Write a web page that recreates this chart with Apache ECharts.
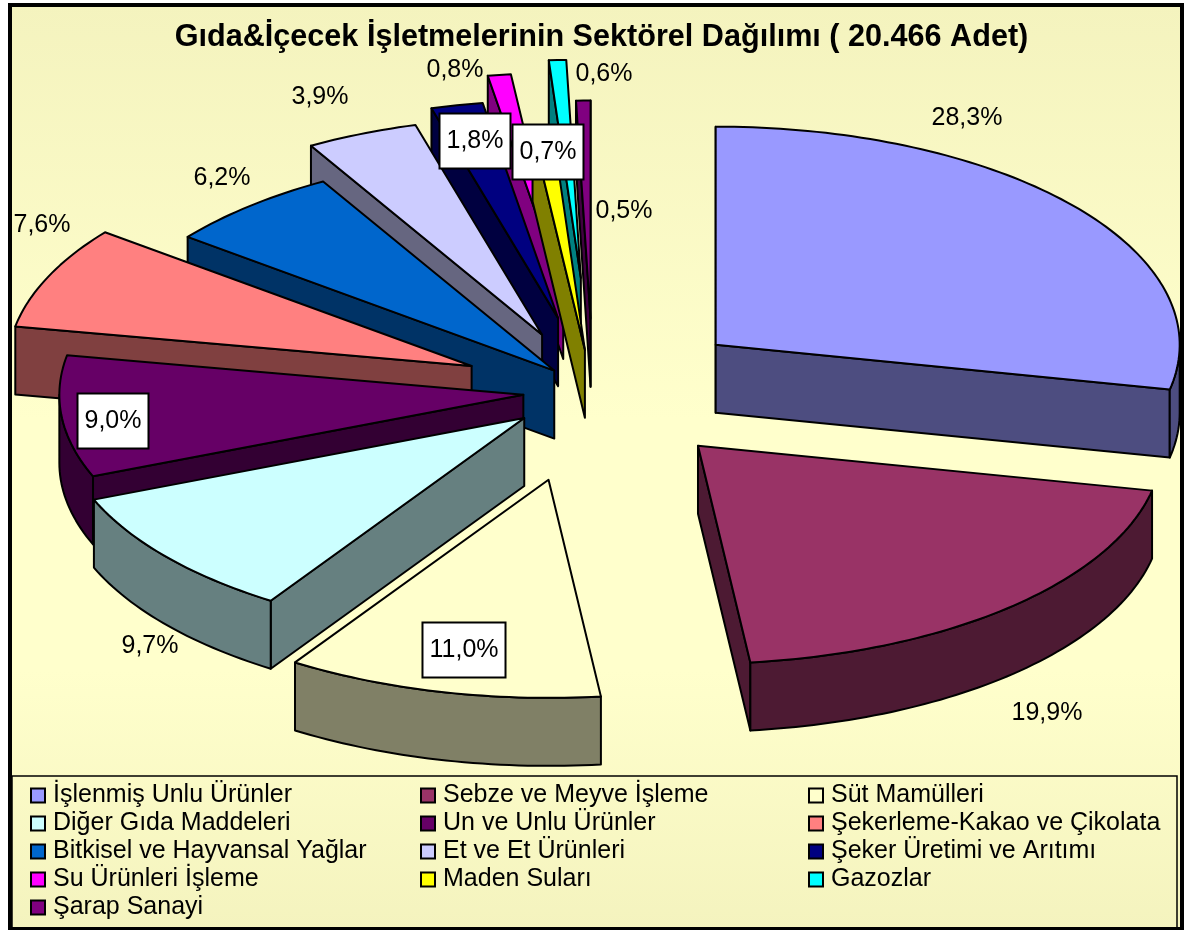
<!DOCTYPE html>
<html><head><meta charset="utf-8">
<style>html,body{margin:0;padding:0;background:#fff}#c{width:1185px;height:930px}</style>
<script src="https://cdn.jsdelivr.net/npm/echarts@6/dist/echarts.min.js"></script>
</head><body><div id="c"></div>
<script>
const titleText = 'Gıda&İçecek İşletmelerinin Sektörel Dağılımı ( 20.466 Adet)';
const categories = ['İşlenmiş Unlu Ürünler','Sebze ve Meyve İşleme','Süt Mamülleri','Diğer Gıda Maddeleri','Un ve Unlu Ürünler','Şekerleme-Kakao ve Çikolata','Bitkisel ve Hayvansal Yağlar','Et ve Et Ürünleri','Şeker Üretimi ve Arıtımı','Su Ürünleri İşleme','Maden Suları','Gazozlar','Şarap Sanayi'];
const percents = [28.3,19.9,11.0,9.7,9.0,7.6,6.2,3.9,1.8,0.8,0.7,0.6,0.5];
const colors = ['#9999FF','#993366','#FFFFCC','#CCFFFF','#660066','#FF8080','#0066CC','#CCCCFF','#000080','#FF00FF','#FFFF00','#00FFFF','#800080'];
const sideColors = ['#4D4D80','#4D1A33','#808066','#668080','#330033','#804040','#003366','#666680','#000040','#800080','#808000','#008080','#400040'];

// layout of the exploded 3D pie, apart from the values
const centerX = 593, centerY = 391.5, radiusX = 464, tilt = 0.47, depth = 68;
const explode = [158,156,193,89,70,133,59,131,160,216,89,242,155];
const drawOrder = [12,11,9,8,10,7,6,0,5,4,3,1,2];
const labelCenters = [[967,118],[1047,713],[464,650],[150,646],[113,421],[42,225],[222,178],[320,97],[475,141],[455,70],[548,152],[604,74],[624,211]];
const labelBoxed = [false,false,true,false,true,false,false,false,true,false,true,false,false];
const legendColumns = [[0,3,6,9,12],[1,4,7,10],[2,5,8,11]];
const legendLefts = [30,420,808];

const total = percents.reduce((a,b)=>a+b,0);
const starts = [];
percents.reduce((acc,v,i)=>{starts[i]=acc;return acc+v;},0);
const rad = p => p/total*2*Math.PI;
const dir = a => [Math.sin(a), -Math.cos(a)*tilt];

function renderSlice(idx, api){
  const v = api.value(0);
  const a0 = rad(starts[idx]), a1 = rad(starts[idx]+v), mid=(a0+a1)/2;
  const md = dir(mid);
  const ax = centerX + explode[idx]*md[0], ay = centerY + explode[idx]*md[1];
  const at = a => { const d=dir(a); return [ax+radiusX*d[0], ay+radiusX*d[1]]; };
  const down = p => [p[0], p[1]+depth];
  const apex=[ax,ay];
  const style = fill => ({fill, stroke:'#000', lineWidth:2, lineJoin:'round'});
  const kids=[];
  const poly = (pts,fill)=>kids.push({type:'polygon',shape:{points:pts},style:style(fill),silent:true});
  const arc=(s,e)=>{const n=Math.max(2,Math.ceil((e-s)/0.02));const r=[];for(let i=0;i<=n;i++)r.push(at(s+(e-s)*i/n));return r;};
  // radial walls that face the viewer
  if (Math.cos(a0-Math.PI/2) < 1e-6) { const p=at(a0); poly([apex,p,down(p),down(apex)],sideColors[idx]); }
  if (Math.cos(a1+Math.PI/2) < 1e-6) { const p=at(a1); poly([apex,p,down(p),down(apex)],sideColors[idx]); }
  // outer wall: front half of the rim only
  const s=Math.max(a0,Math.PI/2), e=Math.min(a1,1.5*Math.PI);
  if (e>s){ const r=arc(s,e); poly(r.concat(r.map(down).reverse()),sideColors[idx]); }
  // top face
  poly([apex].concat(arc(a0,a1)),colors[idx]);
  return {type:'group',children:kids};
}

function renderLabel(params, api){
  const i=params.dataIndex, c=labelCenters[i], boxed=labelBoxed[i];
  const txt=api.value(0).toFixed(1).replace('.',',')+'%';
  return {type:'text',x:c[0],y:c[1],silent:true,style:Object.assign({
    text:txt,fill:'#000',font:'25px "Liberation Sans"',align:'center',verticalAlign:'middle'},
    boxed?{backgroundColor:'#fff',borderColor:'#000',borderWidth:2,padding:[13,6,15,6]}:{})};
}

const series = drawOrder.map(idx=>({
  type:'custom',name:categories[idx],coordinateSystem:'none',animation:false,silent:true,
  itemStyle:{color:colors[idx]},
  data:[[percents[idx]]],
  renderItem:(p,api)=>renderSlice(idx,api)
}));
series.push({type:'custom',name:'labels',coordinateSystem:'none',animation:false,silent:true,z:20,
  data:percents.map(v=>[v]),renderItem:renderLabel});

const option={
  backgroundColor:'#fff',animation:false,
  title:{text:titleText,left:596.5,top:17,textAlign:'center',textStyle:{fontFamily:'Liberation Sans',fontWeight:'bold',fontSize:30.6,color:'#000'}},
  legend:legendColumns.map((col,k)=>({
    orient:'vertical',left:legendLefts[k],top:783,padding:0,itemWidth:14,itemHeight:14,itemGap:3,selectedMode:false,icon:'rect',
    itemStyle:{borderColor:'#000',borderWidth:2},
    textStyle:{fontFamily:'Liberation Sans',fontSize:25,color:'#000',lineHeight:24,padding:[0,0,0,3]},
    data:col.map(i=>categories[i])
  })),
  graphic:[
    {type:'rect',z:-10,silent:true,shape:{x:10,y:5,width:1172,height:924},
     style:{stroke:'#000',lineWidth:4,fill:{type:'linear',x:0,y:0,x2:0,y2:1,colorStops:[{offset:0,color:'#F4F3BE'},{offset:0.45,color:'#FFFFCC'},{offset:0.72,color:'#FFFFCC'},{offset:1,color:'#F4F3BE'}]}}},
    {type:'rect',z:-9,silent:true,shape:{x:12,y:776,width:1165,height:152},style:{stroke:'#000',lineWidth:1.5,fill:'transparent'}}
  ],
  series
};
echarts.init(document.getElementById('c'),null,{renderer:'canvas'}).setOption(option);
</script></body></html>
